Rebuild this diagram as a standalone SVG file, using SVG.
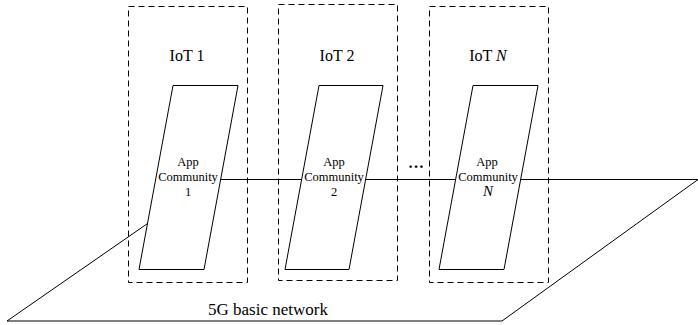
<svg xmlns="http://www.w3.org/2000/svg" width="698" height="325" viewBox="0 0 698 325">
<style>
.box{fill:none;stroke:#000;stroke-width:1;stroke-dasharray:6,4}
.para{fill:#fff;stroke:#000;stroke-width:1}
.line{fill:none;stroke:#000;stroke-width:1}
.t{font-family:"Liberation Serif","Times New Roman",serif;fill:#000;text-anchor:middle}
.big{font-size:16px}
.sm{font-size:12.5px}
</style>
<rect width="698" height="325" fill="#fff"/>
<g id="network">
<polygon class="line" points="211,179.5 7,321 502,321 698,179.5"/>
<text class="t" x="268" y="315" style="font-size:17px">5G basic network</text>
</g>
<g id="iot1">
<rect class="box" x="128.5" y="6.5" width="119" height="276"/>
<text class="t big" x="187" y="61">IoT 1</text>
<polygon class="para" points="173,85.5 238,85.5 204,269.5 139,269.5"/>
<text class="t sm" x="188" y="166">App</text>
<text class="t sm" x="188" y="181">Community</text>
<text class="t sm" x="188" y="196">1</text>
</g>
<g id="iot2">
<rect class="box" x="278.5" y="4.5" width="119" height="276"/>
<text class="t big" x="337" y="61">IoT 2</text>
<polygon class="para" points="319,85.5 383,85.5 349,269.5 285,269.5"/>
<text class="t sm" x="334" y="166">App</text>
<text class="t sm" x="334" y="181">Community</text>
<text class="t sm" x="334" y="196">2</text>
</g>
<g id="dots">
<text class="t" x="416" y="168" style="font-size:16px;font-weight:bold">…</text>
</g>
<g id="iotN">
<rect class="box" x="429.5" y="6.5" width="119" height="276"/>
<text class="t big" x="488" y="61">IoT <tspan font-style="italic">N</tspan></text>
<polygon class="para" points="473,85.5 538,85.5 504,269.5 439,269.5"/>
<text class="t sm" x="487" y="166">App</text>
<text class="t sm" x="488" y="181">Community</text>
<text class="t" x="488" y="196" style="font-size:15px;font-style:italic">N</text>
</g>
</svg>
